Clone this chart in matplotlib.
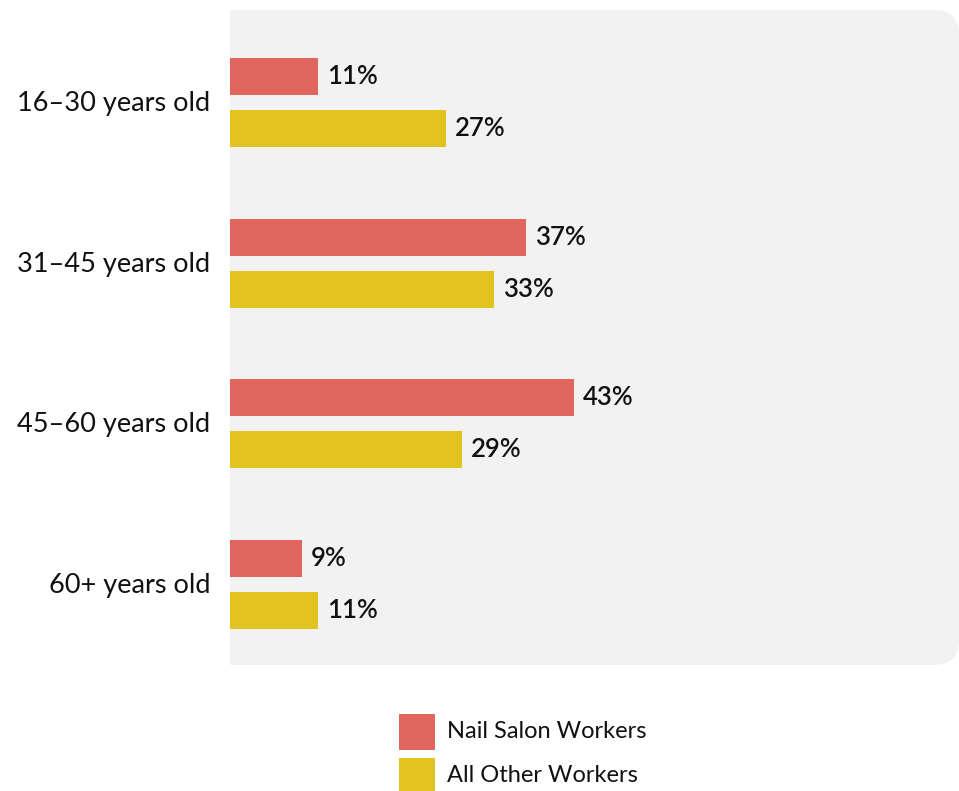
import matplotlib.pyplot as plt
from matplotlib.patches import FancyBboxPatch, Rectangle
import numpy as np

plt.rcParams['font.family'] = ['Lato', 'DejaVu Sans']

ages = ['16–30 years old', '31–45 years old', '45–60 years old', '60+ years old']
nail_salon = [11, 37, 43, 9]
all_other = [27, 33, 29, 11]
series_names = ['Nail Salon Workers', 'All Other Workers']

RED = '#e0655d'
YELLOW = '#e3c320'
PANEL = '#f2f2f2'

W, H = 959, 791
fig = plt.figure(figsize=(W / 100, H / 100), dpi=100)
ax = fig.add_axes([230 / W, 1 - 665 / H, 729 / W, 655 / H])
ax.set_facecolor('none')

# gray panel, square on the left, rounded on the right
r = 25 / 729
panel = FancyBboxPatch((0, 0), 1, 1, boxstyle=f'round,pad=0,rounding_size={r}',
                       mutation_aspect=729 / 655, transform=ax.transAxes,
                       facecolor=PANEL, edgecolor='none', zorder=0, clip_on=False)
ax.add_patch(panel)
ax.add_patch(Rectangle((0, 0), 0.5, 1, transform=ax.transAxes, facecolor=PANEL,
                       edgecolor='none', zorder=0, clip_on=False))

y = np.arange(len(ages))
off = 0.162
h = 0.23
ax.barh(y - off, nail_salon, height=h, color=RED, zorder=2)
ax.barh(y + off, all_other, height=h, color=YELLOW, zorder=2)

for yi, v in zip(y - off, nail_salon):
    ax.text(v + 1.1, yi, f'{v}%', va='center', ha='left', fontsize=18.5,
            fontweight='semibold', color='#111111')
for yi, v in zip(y + off, all_other):
    ax.text(v + 1.1, yi, f'{v}%', va='center', ha='left', fontsize=18.5,
            fontweight='semibold', color='#111111')

ax.set_xlim(0, 91)
ax.set_ylim(3.501, -0.576)
ax.set_yticks(y - 0.01)
ax.set_yticklabels(ages, fontsize=19.5, color='#111111')
ax.tick_params(axis='y', length=0, pad=14)
ax.set_xticks([])
for s in ax.spines.values():
    s.set_visible(False)

# legend
for i, (name, col) in enumerate(zip(series_names, [RED, YELLOW])):
    top = 714 + i * 44
    fig.patches.append(Rectangle((399 / W, 1 - (top + 36) / H), 36 / W, 36 / H,
                                 transform=fig.transFigure, facecolor=col,
                                 edgecolor='none'))
    fig.text(447 / W, 1 - (top + 18) / H, name, fontsize=17, va='center',
             ha='left', color='#111111')

fig.savefig('out.png', dpi=100)
